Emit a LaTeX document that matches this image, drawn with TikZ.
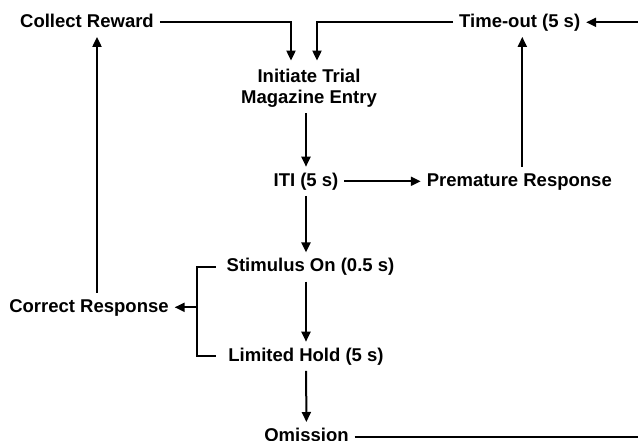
\documentclass[tikz,border=0pt]{standalone}
\usepackage{fontspec}
\setmainfont{Liberation Sans}
\usetikzlibrary{arrows.meta}
\begin{document}
\begin{tikzpicture}
	[x=1pt, y=-1pt,
	every node/.style={font=\bfseries\fontsize{18.5}{20.5}\selectfont, inner sep=0pt, outer sep=6pt},
	stage/.style={text height=13.3pt, text depth=3.9pt},
	flow/.style={line width=2pt, -{Triangle[length=10pt,width=9pt]}},
	link/.style={line width=2pt}]
	\useasboundingbox (0,0) rectangle (638,440);
	\clip (0,0) rectangle (638,440);
	% stages
	\node[stage] (collect) at (87,22.3) {Collect Reward};
	\node[stage] (timeout) at (519.7,22.3) {Time-out (5 s)};
	\node[align=center] (init) at (309,88.5) {Initiate Trial\\Magazine Entry};
	\node[stage] (iti) at (306,181.3) {ITI (5 s)};
	\node[stage] (prem) at (519.3,181.3) {Premature Response};
	\node[stage] (stim) at (310.5,267) {Stimulus On (0.5 s)};
	\node[stage] (correct) at (89,307.3) {Correct Response};
	\node[stage] (limited) at (306,356.3) {Limited Hold (5 s)};
	\node[stage] (omission) at (306.5,436.6) {Omission};
	\coordinate (fork) at (197,307.3);
	% connectors
	\draw[flow] (collect) -| ([xshift=-18pt,yshift=3pt]init.north);
	\draw[flow] (timeout) -| ([xshift=8pt,yshift=3pt]init.north);
	\draw[flow] (init.south -| iti.north) -- (iti.north);
	\draw[flow] (iti) -- (prem);
	\draw[flow] ([xshift=3pt]prem.north) -- ([xshift=3pt]prem.north |- timeout.south);
	\draw[flow] (iti.south) -- (iti.south |- stim.north);
	\draw[flow] (stim.south -| limited.north) -- (limited.north);
	\draw[flow] (limited) -- (omission);
	\draw[link, shorten <=5pt, shorten >=6pt] (stim.west) -| (fork) |- (limited.west);
	\draw[flow] (fork) -- (correct);
	\draw[flow] ([xshift=8pt]correct.north) -- ([xshift=8pt]correct.north |- collect.south);
	\draw[flow] (omission) -- ++(360,0) |- (timeout);
\end{tikzpicture}
\end{document}
